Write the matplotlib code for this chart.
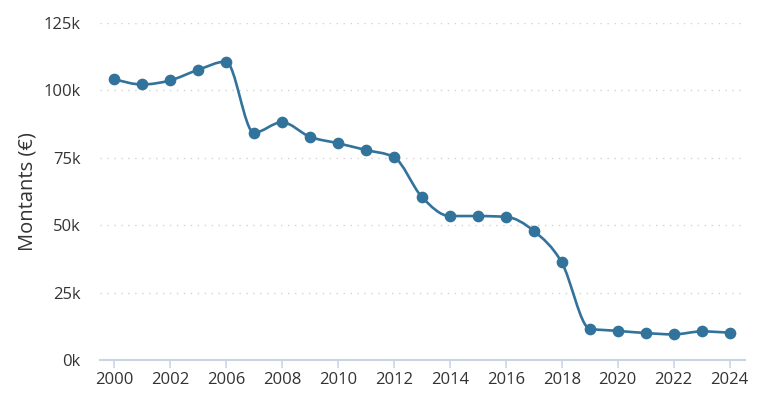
import matplotlib.pyplot as plt
import numpy as np
from matplotlib.path import Path
from matplotlib.patches import PathPatch

plt.rcParams['font.family'] = ['Open Sans', 'DejaVu Sans']

# Data (categorical x axis, one point per year)
years = ["2000", "2001", "2002", "2003", "2006", "2007", "2008", "2009", "2010",
         "2011", "2012", "2013", "2014", "2015", "2016", "2017", "2018", "2019",
         "2020", "2021", "2022", "2023", "2024"]
montants = [104300, 102200, 103700, 107600, 110700, 84300, 88200, 82800, 80400,
            77900, 75300, 60500, 53400, 53400, 53100, 47900, 36200, 11600,
            10800, 10000, 9500, 10600, 10100]
y_ticks = [0, 25000, 50000, 75000, 100000, 125000]
y_tick_labels = ["0k", "25k", "50k", "75k", "100k", "125k"]

LINE = "#32739c"
TXT = "#333333"


def monotone_path(x, y):
    # cubic bezier segments with monotone tangents (like d3 curveMonotoneX)
    x = np.asarray(x, float)
    y = np.asarray(y, float)
    n = len(x)
    h = np.diff(x)
    s = np.diff(y) / h
    t = np.zeros(n)
    for i in range(1, n - 1):
        p = (s[i - 1] * h[i] + s[i] * h[i - 1]) / (h[i - 1] + h[i])
        t[i] = (np.sign(s[i - 1]) + np.sign(s[i])) * min(abs(s[i - 1]), abs(s[i]), 0.5 * abs(p))
    t[0] = (3 * s[0] - t[1]) / 2
    t[-1] = (3 * s[-1] - t[-2]) / 2
    verts = [(x[0], y[0])]
    codes = [Path.MOVETO]
    for i in range(n - 1):
        dx = h[i] / 3
        verts += [(x[i] + dx, y[i] + dx * t[i]),
                  (x[i + 1] - dx, y[i + 1] - dx * t[i + 1]),
                  (x[i + 1], y[i + 1])]
        codes += [Path.CURVE4] * 3
    return Path(verts, codes)


fig = plt.figure(figsize=(7.59, 4.07), dpi=100)
ax = fig.add_axes([100 / 759, 47 / 407, 645 / 759, 337 / 407])

xs = np.arange(len(years))
ax.add_patch(PathPatch(monotone_path(xs, montants), facecolor="none",
                       edgecolor=LINE, linewidth=1.9, zorder=3))
ax.plot(xs, montants, linestyle="none", marker="o", markersize=7.4,
        color=LINE, zorder=4)

ax.set_xlim(-0.5, 22.55)
ax.set_ylim(0, 125000)

ax.set_xticks(xs[::2])
ax.set_xticklabels(years[::2])
ax.set_yticks(y_ticks)
ax.set_yticklabels(y_tick_labels)

ax.yaxis.grid(True, linestyle=(0, (1, 4)), color="#d2d2d2", linewidth=1)
ax.set_axisbelow(True)

for sp in ["top", "right", "left"]:
    ax.spines[sp].set_visible(False)
ax.spines["bottom"].set_color("#c9d5e6")
ax.spines["bottom"].set_linewidth(1.5)

ax.tick_params(axis="x", colors="#c9d5e6", labelcolor=TXT, labelsize=12,
               length=6, width=1.2, pad=3)
ax.tick_params(axis="y", length=0, labelcolor=TXT, labelsize=12, pad=14)

ax.set_ylabel("Montants (€)", fontsize=14.5, color=TXT, labelpad=4)

fig.savefig("out.png", dpi=100)
